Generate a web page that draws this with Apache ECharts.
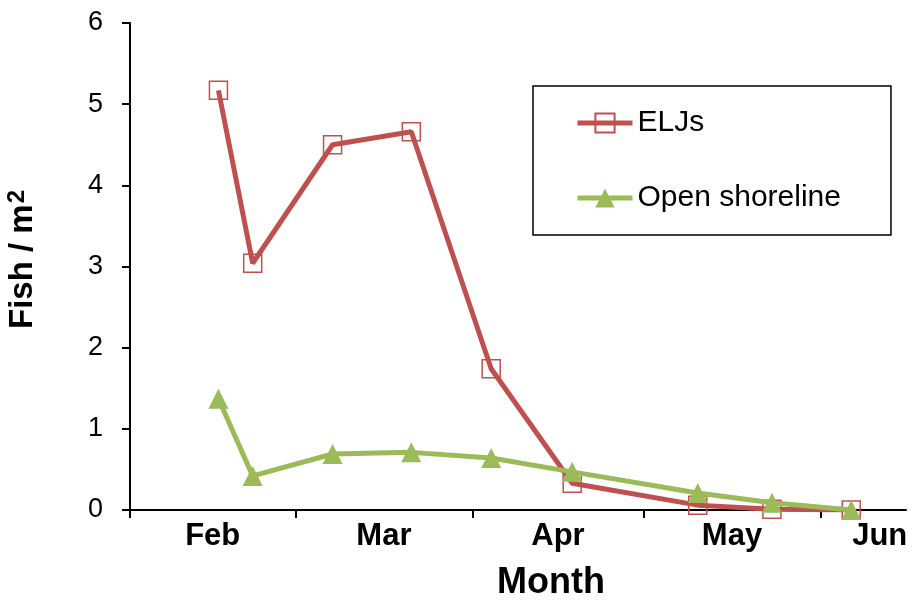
<!DOCTYPE html>
<html>
<head>
<meta charset="utf-8">
<script src="https://cdn.jsdelivr.net/npm/echarts@6/dist/echarts.min.js"></script>
<style>
  html, body { margin: 0; padding: 0; background: #fff; }
  #chart { width: 915px; height: 603px; }
</style>
</head>
<body>
<div id="chart"></div>
<script>
// x values are days counted from 31 Jan
const sampleDay = [15.5, 21.5, 35.5, 49.3, 63.3, 77.5, 99.5, 112.5, 126.4];
const eljs = [5.17, 3.04, 4.5, 4.66, 1.74, 0.33, 0.06, 0.01, 0.0];
const openShore = [1.37, 0.42, 0.69, 0.71, 0.64, 0.47, 0.21, 0.09, 0.0];

const monthStart = [0, 29, 60, 90, 121];
const monthNames = ["Feb", "Mar", "Apr", "May", "Jun"];
const monthLabelAt = [14.5, 44.5, 75, 105.5, 131.4];

const font = "'Liberation Sans', Arial, sans-serif";
const monthByPos = new Map(monthLabelAt.map((d, i) => [d, monthNames[i]]));

const chart = echarts.init(document.getElementById("chart"), null, { renderer: "canvas" });

chart.setOption({
  animation: false,
  textStyle: { fontFamily: font, color: "#000" },
  grid: { left: 130, right: 9, top: 23, bottom: 93, containLabel: false, outerBoundsMode: "none" },
  legend: {
    orient: "vertical",
    left: 533,
    top: 86,
    padding: [21, 50, 21, 42],
    itemWidth: 55,
    itemHeight: 24,
    itemGap: 43,
    borderColor: "#000",
    borderWidth: 1.5,
    lineStyle: { width: 5 },
    textStyle: { fontFamily: font, fontSize: 30, lineHeight: 32, color: "#000" },
    data: ["ELJs", "Open shoreline"],
  },
  xAxis: {
    type: "value",
    min: 0,
    max: 136,
    name: "Month",
    nameLocation: "middle",
    nameGap: 55,
    nameTextStyle: { fontFamily: font, fontSize: 36, fontWeight: "bold", color: "#000", padding: [0, 0, 0, 66] },
    axisLine: { onZero: false, lineStyle: { color: "#000", width: 2 } },
    axisTick: { show: true, customValues: monthStart, length: 8, lineStyle: { color: "#000", width: 2 } },
    axisLabel: {
      customValues: monthLabelAt,
      formatter: (value) => monthByPos.get(value) || "",
      margin: 11,
      fontFamily: font,
      fontSize: 31,
      fontWeight: "bold",
      color: "#000",
    },
    splitLine: { show: false },
  },
  yAxis: {
    type: "value",
    min: 0,
    max: 6,
    interval: 1,
    name: "Fish / m{sup|2}",
    nameLocation: "middle",
    nameGap: 89,
    nameTextStyle: {
      fontFamily: font,
      fontSize: 33,
      fontWeight: "bold",
      color: "#000",
      padding: [0, 0, 0, 14],
      rich: {
        sup: { fontFamily: font, fontSize: 24, fontWeight: "bold", color: "#000", verticalAlign: "top", padding: [0, 0, 12, 1] },
      },
    },
    axisLine: { show: true, lineStyle: { color: "#000", width: 2 } },
    axisTick: { show: true, length: 8, lineStyle: { color: "#000", width: 2 } },
    axisLabel: { margin: 27, fontFamily: font, fontSize: 27, color: "#000" },
    splitLine: { show: false },
  },
  series: [
    {
      name: "ELJs",
      type: "line",
      data: sampleDay.map((d, i) => [d, eljs[i]]),
      symbol: "rect",
      symbolSize: 18,
      showAllSymbol: true,
      lineStyle: { color: "#C0504D", width: 5 },
      itemStyle: { color: "rgba(255,255,255,0)", borderColor: "#C0504D", borderWidth: 1.5 },
      z: 2,
    },
    {
      name: "Open shoreline",
      type: "line",
      data: sampleDay.map((d, i) => [d, openShore[i]]),
      symbol: "triangle",
      symbolSize: 20,
      showAllSymbol: true,
      lineStyle: { color: "#9BBB59", width: 5 },
      itemStyle: { color: "#9BBB59" },
      z: 3,
    },
  ],
});

window.addEventListener("resize", () => chart.resize());
</script>
</body>
</html>
